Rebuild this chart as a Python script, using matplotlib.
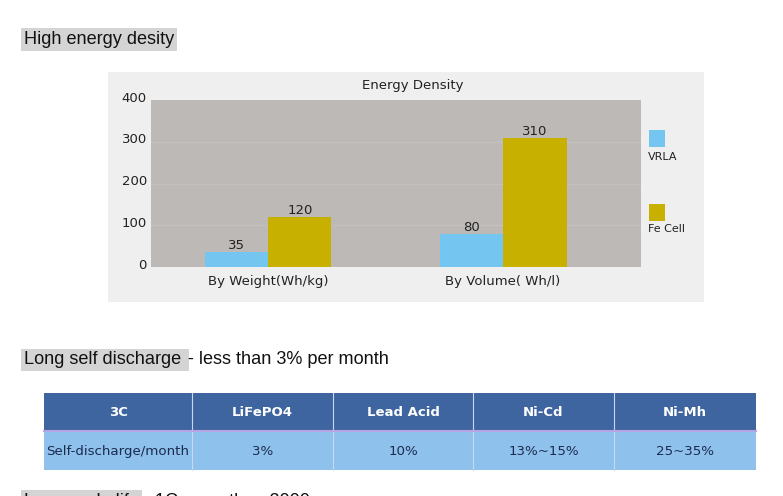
import numpy as np
import matplotlib
matplotlib.use("Agg")
import matplotlib.pyplot as plt
from matplotlib.patches import Rectangle
import matplotlib.transforms as mtransforms

# ---------------- data ----------------
categories = ["By Weight(Wh/kg)", "By Volume( Wh/l)"]
series_names = ["VRLA", "Fe Cell"]
vrla_values = [35, 80]
fecell_values = [120, 310]
y_ticks = [0, 100, 200, 300, 400]

table_header = ["3C", "LiFePO4", "Lead Acid", "Ni-Cd", "Ni-Mh"]
table_row = ["Self-discharge/month", "3%", "10%", "13%~15%", "25~35%"]

heading1 = "High energy desity"
heading2_hl = "Long self discharge "
heading2_rest = "- less than 3% per month"
heading3_hl = "Long cycle life"
heading3_rest = " - 1C more than 2000"

# ---------------- layout helpers ----------------
W, H = 783, 496
fig = plt.figure(figsize=(W / 100, H / 100), dpi=100)
fig.patch.set_facecolor("white")


def fx(x):
    return x / W


def fy(y):
    return 1 - y / H


blue = "#74c5ef"
olive = "#c8b000"
plot_bg = "#bdb9b6"
panel_bg = "#efefef"
text_font = "Liberation Sans"
chart_font = "DejaVu Sans"
hfs = 13.1

# chart panel
fig.add_artist(Rectangle((fx(108), fy(302)), fx(704) - fx(108), fy(72) - fy(302),
                         transform=fig.transFigure, facecolor=panel_bg,
                         edgecolor="none", zorder=-5))

ax = fig.add_axes([fx(151), fy(267), fx(641) - fx(151), fy(100) - fy(267)])
ax.set_facecolor(plot_bg)
for s in ax.spines.values():
    s.set_visible(False)

x = np.arange(len(categories))
w = 0.27
b1 = ax.bar(x - w / 2, vrla_values, w, color=blue, zorder=3)
b2 = ax.bar(x + w / 2, fecell_values, w, color=olive, zorder=3)
for bars, vals in ((b1, vrla_values), (b2, fecell_values)):
    for r, v in zip(bars, vals):
        ax.annotate(str(v), (r.get_x() + r.get_width() / 2, v),
                    xytext=(0, 0), textcoords="offset points",
                    ha="center", va="bottom", fontsize=9.5,
                    color="#222222", family=chart_font, zorder=4)

ax.set_xlim(-0.498, 1.587)
ax.set_ylim(0, 400)
ax.set_yticks(y_ticks)
ax.set_yticklabels([str(t) for t in y_ticks], fontsize=9.5, family=chart_font, color="#222222")
ax.set_xticks(x)
ax.set_xticklabels(categories, fontsize=9.5, family=chart_font, color="#222222")
ax.tick_params(axis="both", length=0)
ax.tick_params(axis="y", pad=3)
ax.tick_params(axis="x", pad=6)
offset = mtransforms.ScaledTranslation(0, 2.5 / 72, fig.dpi_scale_trans)
for lab in ax.get_yticklabels():
    lab.set_transform(lab.get_transform() + offset)
for t in y_ticks[1:-1]:
    ax.axhline(t, color="#c4c0bd", lw=1, zorder=1)

fig.text(fx(413), fy(85), "Energy Density", ha="center", va="center",
         fontsize=9.5, family=chart_font, color="#222222")

# legend (manual, stacked square above label)
leg_y = [(130, 157), (204, 229)]
for name, col, (sq_y, tx_y) in zip(series_names, [blue, olive], leg_y):
    fig.add_artist(Rectangle((fx(649), fy(sq_y + 17)), fx(16), 17 / H,
                             transform=fig.transFigure, facecolor=col,
                             edgecolor="none"))
    fig.text(fx(648), fy(tx_y), name, ha="left", va="center", fontsize=8,
             family=chart_font, color="#222222")

# ---------------- headings ----------------
hl = dict(facecolor="#d4d4d4", edgecolor="none", pad=2.0)
fig.text(fx(24), fy(39.5), heading1, ha="left", va="center", fontsize=hfs,
         family=text_font, color="#111111", bbox=hl)

renderer = fig.canvas.get_renderer()
t2 = fig.text(fx(24), fy(360), heading2_hl, ha="left", va="center", fontsize=hfs,
              family=text_font, color="#111111", bbox=hl)
bb2 = t2.get_window_extent(renderer)
fig.text(bb2.x1 / W + 2 / W, fy(360), heading2_rest, ha="left", va="center", fontsize=hfs,
         family=text_font, color="#111111")

t3 = fig.text(fx(24), fy(493), heading3_hl, ha="left", va="top", fontsize=hfs,
              family=text_font, color="#111111", bbox=hl)
bb3 = t3.get_window_extent(renderer)
fig.text(bb3.x1 / W, fy(493), heading3_rest, ha="left", va="top", fontsize=hfs,
         family=text_font, color="#111111")

# ---------------- table ----------------
col_edges = [44, 192, 333, 473, 614, 756]
head_top, head_bot, body_bot = 393, 431, 470
head_col = "#3f65a0"
body_col = "#8ec1ec"
for i in range(len(table_header)):
    x0, x1 = col_edges[i], col_edges[i + 1]
    fig.add_artist(Rectangle((fx(x0), fy(head_bot)), fx(x1 - x0), (head_bot - head_top) / H,
                             transform=fig.transFigure, facecolor=head_col,
                             edgecolor="none"))
    fig.add_artist(Rectangle((fx(x0), fy(body_bot)), fx(x1 - x0), (body_bot - head_bot) / H,
                             transform=fig.transFigure, facecolor=body_col,
                             edgecolor="none"))
    fig.text(fx((x0 + x1) / 2), fy((head_top + head_bot) / 2), table_header[i],
             ha="center", va="center", fontsize=9.5, fontweight="bold",
             family="Liberation Sans Narrow", color="white")
    fig.text(fx((x0 + x1) / 2), fy((head_bot + body_bot) / 2 + 1), table_row[i],
             ha="center", va="center", fontsize=9.6, family=chart_font,
             color="#1c2b4e")
# divider lines
for xe in col_edges[1:-1]:
    fig.add_artist(plt.Line2D([fx(xe), fx(xe)], [fy(body_bot), fy(head_top)],
                              transform=fig.transFigure, color="#c9d8ee", lw=0.8))
fig.add_artist(plt.Line2D([fx(col_edges[0]), fx(col_edges[-1])], [fy(head_bot), fy(head_bot)],
                          transform=fig.transFigure, color="#b7a6e6", lw=1.5))

fig.savefig("out.png", dpi=100)
